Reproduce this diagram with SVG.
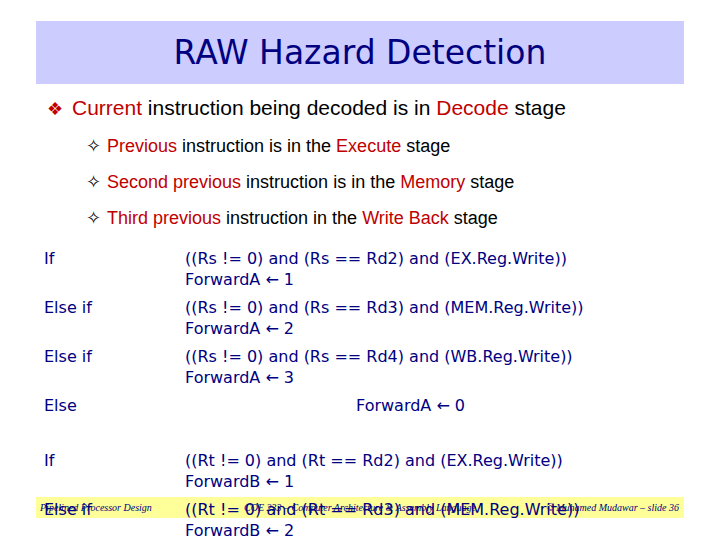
<svg xmlns="http://www.w3.org/2000/svg" width="720" height="540" viewBox="0 0 720 540">
<style>
.b{font-family:"Liberation Sans",Arial,sans-serif;fill:#000}
.r{fill:#c00000}
.c{font-family:"DejaVu Sans",sans-serif;font-size:16px;fill:#000080}
.f{font-family:"Liberation Serif",serif;font-style:italic;font-size:10px;fill:#000080}
</style>
<rect width="720" height="540" fill="#fff"/>
<g id="title"><rect x="36" y="21" width="648" height="63" fill="#ccccff"/>
<text x="360" y="64" text-anchor="middle" font-family="DejaVu Sans,sans-serif" font-size="33" fill="#000080">RAW Hazard Detection</text></g>
<g id="bullets">
<text class="b" x="47" y="115" font-size="18" fill="#c00000" style="fill:#c00000">❖</text>
<text class="b" x="72" y="115" font-size="21"><tspan class="r">Current</tspan> instruction being decoded is in <tspan class="r">Decode</tspan> stage</text>
<text class="b" x="86" y="152" font-size="18">✧</text>
<text class="b" x="107" y="152" font-size="18"><tspan class="r">Previous</tspan> instruction is in the <tspan class="r">Execute</tspan> stage</text>
<text class="b" x="86" y="188" font-size="18">✧</text>
<text class="b" x="107" y="188" font-size="18"><tspan class="r">Second previous</tspan> instruction is in the <tspan class="r">Memory</tspan> stage</text>
<text class="b" x="86" y="224" font-size="18">✧</text>
<text class="b" x="107" y="224" font-size="18"><tspan class="r">Third previous</tspan> instruction in the <tspan class="r">Write Back</tspan> stage</text>
</g>
<rect x="36" y="497" width="648" height="21" fill="#ffff99"/>
<g id="code">
<text class="c" x="44" y="264">If</text>
<text class="c" x="185" y="264">((Rs != 0) and (Rs == Rd2) and (EX.Reg.Write))</text>
<text class="c" x="185" y="285">ForwardA ← 1</text>
<text class="c" x="44" y="313">Else if</text>
<text class="c" x="185" y="313">((Rs != 0) and (Rs == Rd3) and (MEM.Reg.Write))</text>
<text class="c" x="185" y="334">ForwardA ← 2</text>
<text class="c" x="44" y="362">Else if</text>
<text class="c" x="185" y="362">((Rs != 0) and (Rs == Rd4) and (WB.Reg.Write))</text>
<text class="c" x="185" y="383">ForwardA ← 3</text>
<text class="c" x="44" y="411">Else</text>
<text class="c" x="356" y="411">ForwardA ← 0</text>
<text class="c" x="44" y="466">If</text>
<text class="c" x="185" y="466">((Rt != 0) and (Rt == Rd2) and (EX.Reg.Write))</text>
<text class="c" x="185" y="487">ForwardB ← 1</text>
<text class="c" x="44" y="515">Else if</text>
<text class="c" x="185" y="515">((Rt != 0) and (Rt == Rd3) and (MEM.Reg.Write))</text>
<text class="c" x="185" y="536">ForwardB ← 2</text>
</g>
<g id="footer">
<text class="f" x="40" y="511">Pipelined Processor Design</text>
<text class="f" x="360" y="511" text-anchor="middle">COE 233 – Computer Architecture &amp; Assembly Language</text>
<text class="f" x="679" y="511" text-anchor="end">© Muhamed Mudawar – slide 36</text>
</g>
</svg>
